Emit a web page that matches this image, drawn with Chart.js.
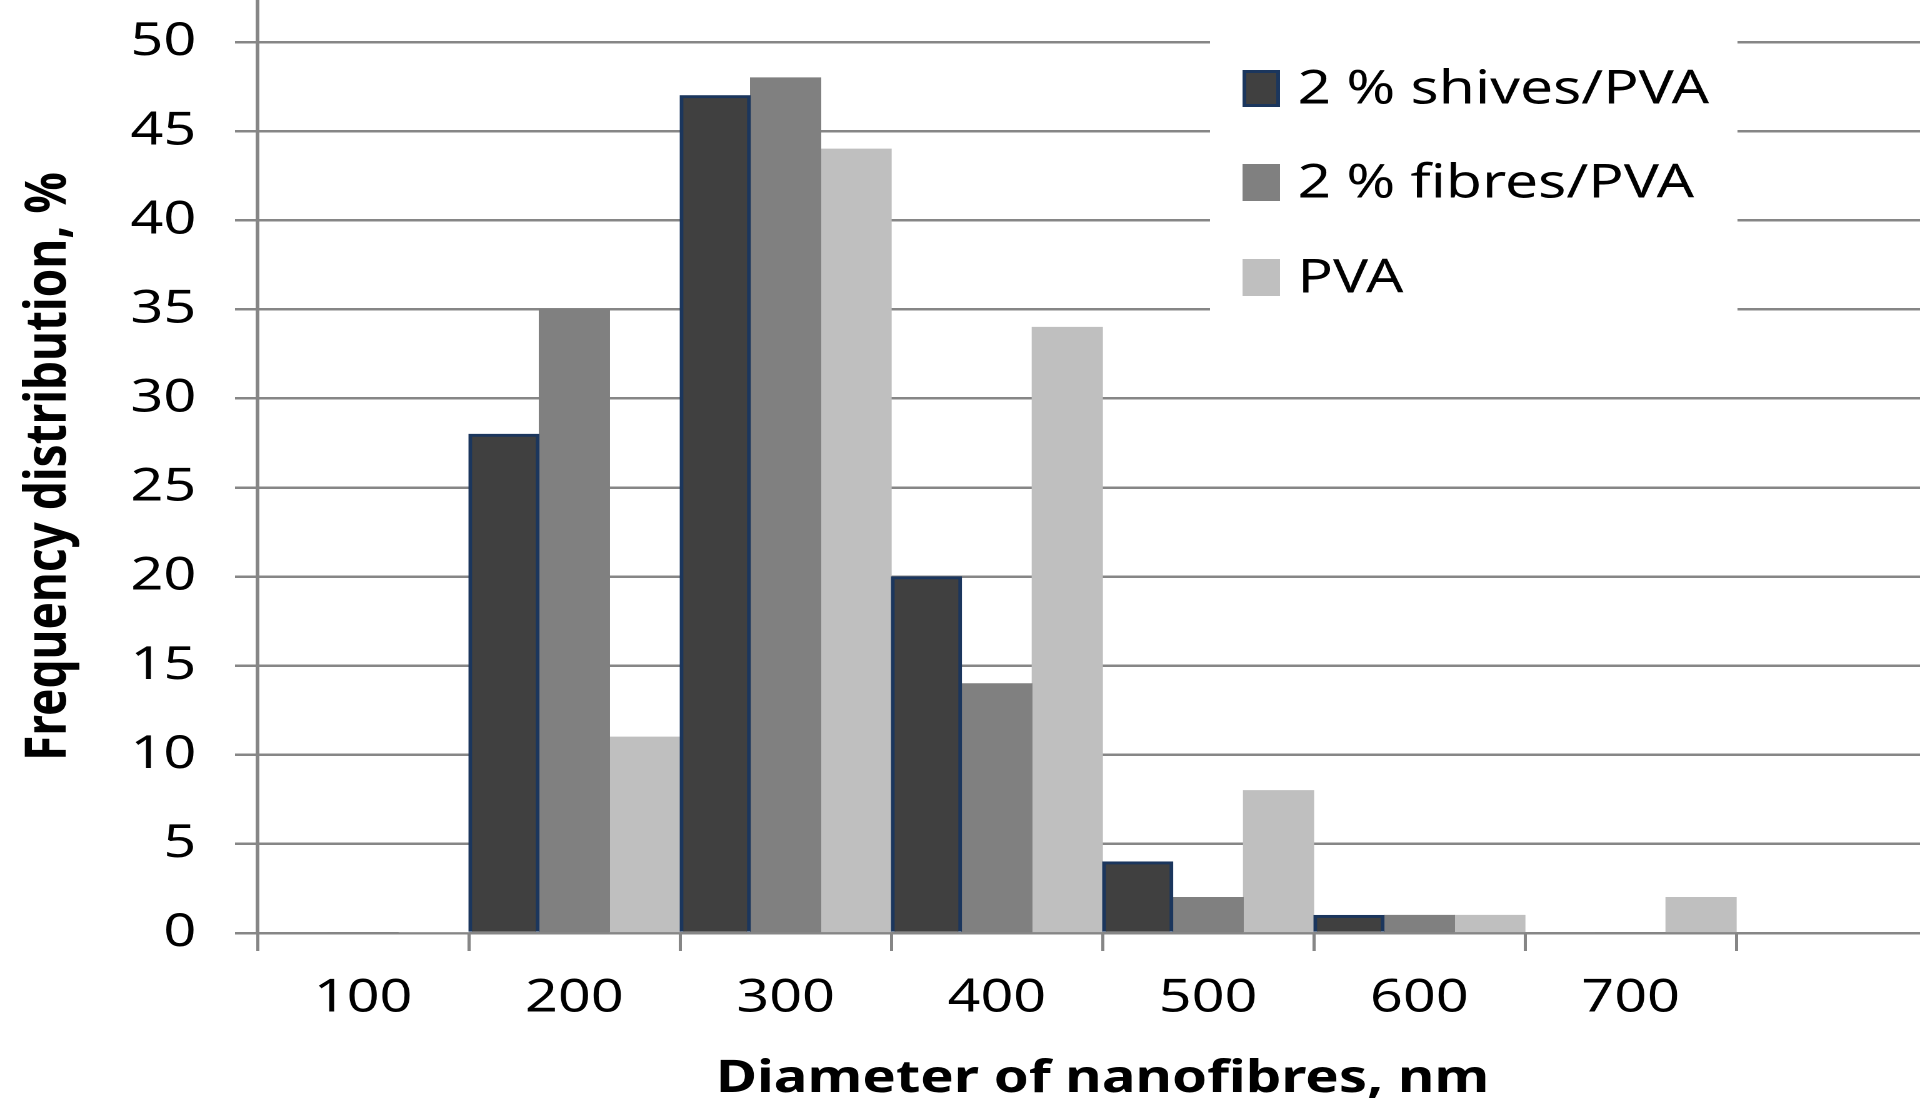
<!DOCTYPE html>
<html>
<head>
<meta charset="utf-8">
<script src="https://cdn.jsdelivr.net/npm/chart.js@4"></script>
<style>
  html, body { margin: 0; padding: 0; background: #fff; overflow: hidden; }
  /* a figura original esta esticada na horizontal */
  #wrap { position: absolute; left: 0; top: 0; width: 1558px; height: 1106px;
          transform: scaleX(1.25); transform-origin: 0 0; }
</style>
</head>
<body>
<div id="wrap"><canvas id="grafico"></canvas></div>
<script>
// dados
const categorias = ['100', '200', '300', '400', '500', '600', '700'];
const shives = [0, 28, 47, 20, 4, 1, 0];
const fibres = [0, 35, 48, 14, 2, 1, 0];
const pva = [0, 11, 44, 34, 8, 1, 2];
const nomes = ['2 % shives/PVA', '2 % fibres/PVA', 'PVA'];
const yTicks = [0, 5, 10, 15, 20, 25, 30, 35, 40, 45, 50];

const fonte = '"Noto Sans", "Open Sans", sans-serif';

// legenda desenhada por cima das linhas de grade
const legendaBox = {
    id: 'legendaBox',
    afterDraw(chart) {
        const ctx = chart.ctx;
        ctx.save();
        ctx.fillStyle = '#fff';
        ctx.fillRect(968, 18, 422, 314);
        const linhas = [88, 182, 277];
        chart.data.datasets.forEach((ds, i) => {
            const y = linhas[i];
            ctx.fillStyle = ds.backgroundColor;
            ctx.fillRect(994, y - 18, 30, 37);
            if (ds.borderWidth) {
                ctx.strokeStyle = ds.borderColor;
                ctx.lineWidth = 3;
                ctx.strokeRect(995.5, y - 16.5, 27, 34);
            }
            ctx.fillStyle = '#000';
            ctx.font = '47px ' + fonte;
            ctx.textBaseline = 'middle';
            ctx.fillText(ds.label, 1038, y + 2);
        });
        ctx.restore();
    }
};

window.addEventListener('load', function () {
    const ctx = document.getElementById('grafico').getContext('2d');
    new Chart(ctx, {
        type: 'bar',
        data: {
            labels: [...categorias, ''],
            datasets: [{
                label: nomes[0],
                data: shives,
                backgroundColor: '#404040',
                borderColor: '#1b365d',
                borderWidth: 3
            }, {
                label: nomes[1],
                data: fibres,
                backgroundColor: '#808080',
                borderWidth: 0
            }, {
                label: nomes[2],
                data: pva,
                backgroundColor: '#bfbfbf',
                borderWidth: 0
            }]
        },
        options: {
            responsive: true,
            maintainAspectRatio: false,
            animation: false,
            devicePixelRatio: 2,
            layout: { autoPadding: false, padding: 0 },
            datasets: {
                bar: { categoryPercentage: 1, barPercentage: 1 }
            },
            plugins: {
                legend: { display: false },
                tooltip: { enabled: false }
            },
            scales: {
                x: {
                    afterFit: s => {
                        s.height = 173;
                        s.paddingLeft = 0;
                        s.paddingRight = 0;
                    },
                    grid: {
                        drawOnChartArea: false,
                        drawTicks: true,
                        tickLength: 18,
                        color: '#868686',
                        lineWidth: 2.5
                    },
                    border: { color: '#868686', width: 2.5 },
                    ticks: {
                        color: '#000',
                        font: { family: fonte, size: 46 },
                        padding: 20,
                        maxRotation: 0
                    },
                    title: {
                        display: true,
                        text: 'Diameter of nanofibres, nm',
                        color: '#000',
                        font: { family: fonte, size: 45, weight: 'bold' },
                        padding: { top: 26, bottom: 0 }
                    }
                },
                y: {
                    min: 0,
                    max: 52.36,
                    afterBuildTicks: axis => {
                        axis.ticks = yTicks.map(v => ({ value: v }));
                    },
                    afterFit: s => {
                        s.width = 206;
                        s.paddingTop = 0;
                        s.paddingBottom = 0;
                    },
                    grid: {
                        color: '#868686',
                        lineWidth: 2.5,
                        tickLength: 18
                    },
                    border: { color: '#868686', width: 3 },
                    ticks: {
                        color: '#000',
                        font: { family: fonte, size: 46 },
                        padding: 31
                    },
                    title: {
                        display: true,
                        text: 'Frequency distribution, %',
                        color: '#000',
                        font: { family: fonte, size: 46, weight: 'bold' },
                        padding: { top: 12, bottom: 37 }
                    }
                }
            }
        },
        plugins: [legendaBox]
    });
});
</script>
</body>
</html>
